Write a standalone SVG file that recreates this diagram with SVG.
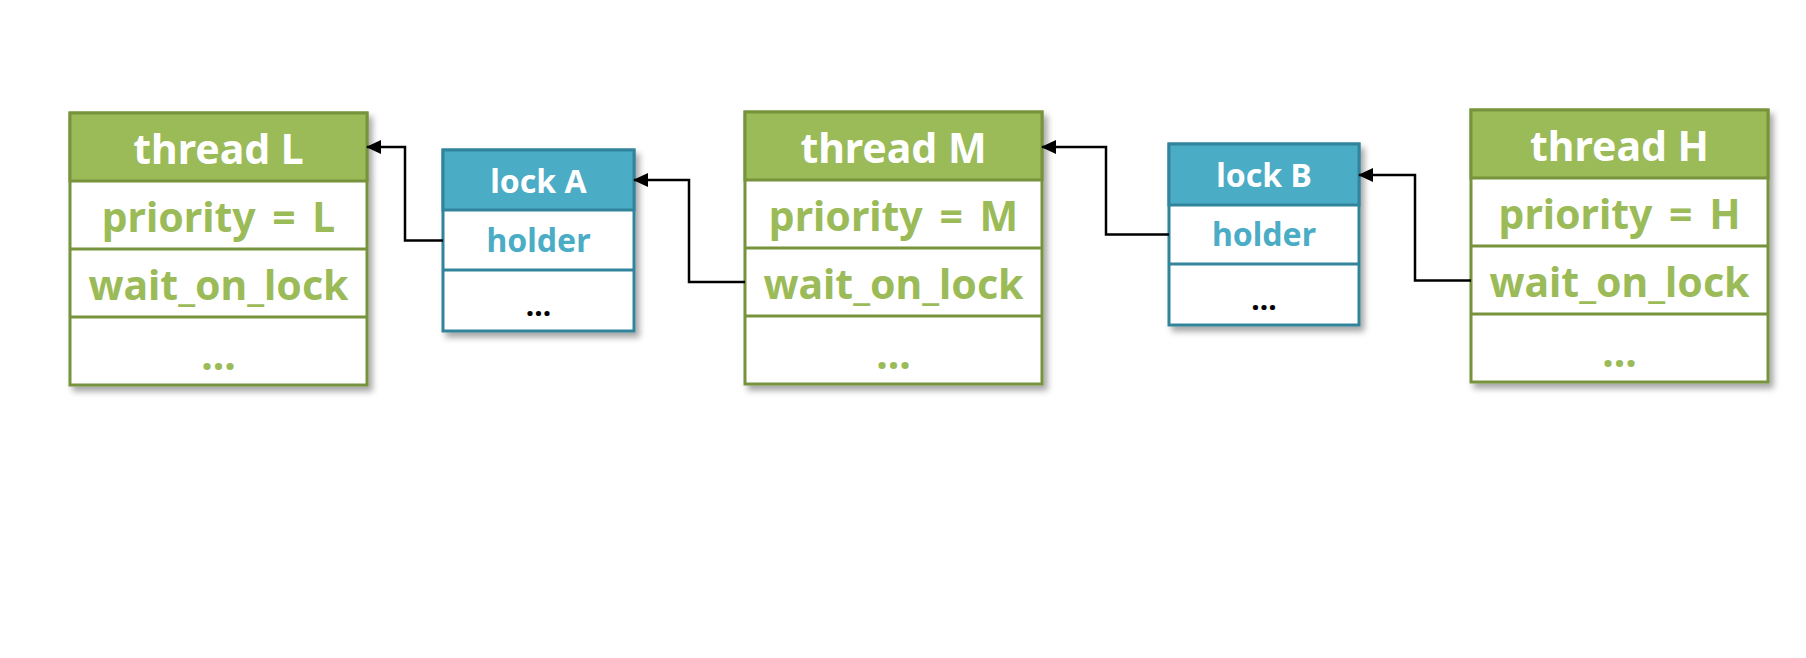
<svg xmlns="http://www.w3.org/2000/svg" width="1806" height="658" viewBox="0 0 1806 658">
<style>
.tbox{fill:#ffffff;stroke:#77933c;stroke-width:3}
.thead{fill:#9bbb59;stroke:#77933c;stroke-width:3}
.tline{stroke:#77933c;stroke-width:3}
.lbox{fill:#ffffff;stroke:#31849b;stroke-width:3}
.lhead{fill:#4bacc6;stroke:#31849b;stroke-width:3}
.lline{stroke:#31849b;stroke-width:3}
text{font-family:"Noto Sans","Noto Sans CJK KR","Liberation Sans",sans-serif;font-weight:bold;text-anchor:middle}
.th{font-size:41px;fill:#ffffff}
.tf{font-size:41px;fill:#9bbb59;word-spacing:6px}
.lh{font-size:32px;fill:#ffffff}
.lf{font-size:32px;fill:#4bacc6}
.ld{font-size:30px;fill:#000000}
.conn{fill:none;stroke:#000000;stroke-width:2.5}
</style>
<defs>
<filter id="sh" x="-10%" y="-10%" width="130%" height="130%">
<feDropShadow dx="4" dy="5" stdDeviation="3" flood-color="#000000" flood-opacity="0.35"/>
</filter>
<marker id="arr" markerUnits="userSpaceOnUse" markerWidth="16" markerHeight="14" refX="14" refY="7" orient="auto">
<path d="M0,0 L15,7 L0,14 z" fill="#000000"/>
</marker>
</defs>
<rect width="1806" height="658" fill="#ffffff"/>

<g id="threadL">
<rect class="tbox" x="70" y="113" width="297" height="272" filter="url(#sh)"/>
<rect class="thead" x="70" y="113" width="297" height="68"/>
<line class="tline" x1="70" y1="249" x2="367" y2="249"/>
<line class="tline" x1="70" y1="317" x2="367" y2="317"/>
<text class="th" x="218.5" y="164">thread L</text>
<text class="tf" x="218.5" y="232">priority = L</text>
<text class="tf" x="218.5" y="300">wait_on_lock</text>
<text class="tf" x="218.5" y="370">...</text>
</g>

<g id="lockA">
<rect class="lbox" x="443" y="150" width="191" height="181" filter="url(#sh)"/>
<rect class="lhead" x="443" y="150" width="191" height="60"/>
<line class="lline" x1="443" y1="270" x2="634" y2="270"/>
<text class="lh" x="538.5" y="193">lock A</text>
<text class="lf" x="538.5" y="252">holder</text>
<text class="ld" x="538.5" y="316">...</text>
</g>

<g id="threadM">
<rect class="tbox" x="745" y="112" width="297" height="272" filter="url(#sh)"/>
<rect class="thead" x="745" y="112" width="297" height="68"/>
<line class="tline" x1="745" y1="248" x2="1042" y2="248"/>
<line class="tline" x1="745" y1="316" x2="1042" y2="316"/>
<text class="th" x="893.5" y="163">thread M</text>
<text class="tf" x="893.5" y="231">priority = M</text>
<text class="tf" x="893.5" y="299">wait_on_lock</text>
<text class="tf" x="893.5" y="369">...</text>
</g>

<g id="lockB">
<rect class="lbox" x="1169" y="144" width="190" height="181" filter="url(#sh)"/>
<rect class="lhead" x="1169" y="144" width="190" height="61"/>
<line class="lline" x1="1169" y1="264" x2="1359" y2="264"/>
<text class="lh" x="1264" y="187">lock B</text>
<text class="lf" x="1264" y="246">holder</text>
<text class="ld" x="1264" y="310">...</text>
</g>

<g id="threadH">
<rect class="tbox" x="1471" y="110" width="297" height="272" filter="url(#sh)"/>
<rect class="thead" x="1471" y="110" width="297" height="68"/>
<line class="tline" x1="1471" y1="246" x2="1768" y2="246"/>
<line class="tline" x1="1471" y1="314" x2="1768" y2="314"/>
<text class="th" x="1619.5" y="161">thread H</text>
<text class="tf" x="1619.5" y="229">priority = H</text>
<text class="tf" x="1619.5" y="297">wait_on_lock</text>
<text class="tf" x="1619.5" y="367">...</text>
</g>

<g id="connectors">
<path class="conn" d="M443,240.5 H405 V147 H367" marker-end="url(#arr)"/>
<path class="conn" d="M745,282 H689 V180 H634" marker-end="url(#arr)"/>
<path class="conn" d="M1169,234.5 H1106 V147 H1042" marker-end="url(#arr)"/>
<path class="conn" d="M1471,280.5 H1415 V175 H1359" marker-end="url(#arr)"/>
</g>
</svg>
